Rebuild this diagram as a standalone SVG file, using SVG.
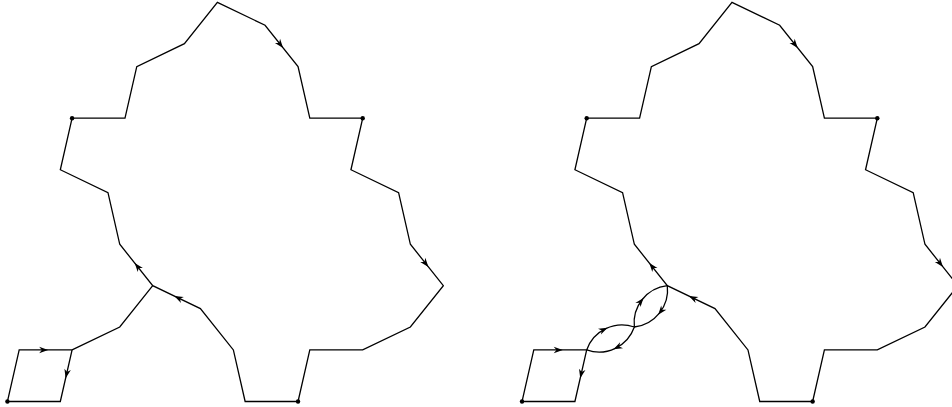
<svg xmlns="http://www.w3.org/2000/svg" xmlns:xlink="http://www.w3.org/1999/xlink" width="952" height="407" viewBox="0 0 952 407">
<style>
.e{fill:none;stroke:#000;stroke-width:1.3;stroke-linejoin:miter;stroke-miterlimit:10}
.d{fill:#000}
.ah{fill:#000;stroke:none}
</style>
<defs>
<path id="ah" class="ah" d="M4,0 L-5,-3.3 L-2.3,0 L-5,3.3 Z"/>
</defs>
<rect width="952" height="407" fill="#fff"/>
<g id="fig-left">
  <g id="left-connectors">
    <path class="e" d="M217.4,2.3 L265.06,25.25 L298.04,66.61 L309.81,118.18 L362.71,118.18 L350.94,169.75 L398.6,192.7 L410.37,244.27 L443.35,285.63 L410.37,326.99 L362.71,349.94 L309.81,349.94 L298.04,401.51 L245.14,401.51 L233.37,349.94 L200.39,308.58 L152.73,285.63 L119.75,244.27 L107.98,192.7 L60.32,169.75 L72.09,118.18 L124.99,118.18 L136.76,66.61 L184.42,43.66 Z"/>
    <path class="e" d="M152.73,285.63 L119.75,326.99 L72.09,349.94"/>
    <path class="e" d="M72.09,349.94 L60.32,401.51 L7.42,401.51 L19.19,349.94 Z"/>
    <use xlink:href="#ah" href="#ah" transform="translate(280.6,44.76) rotate(51.43)"/>
    <use xlink:href="#ah" href="#ah" transform="translate(425.9,263.78) rotate(51.43)"/>
    <use xlink:href="#ah" href="#ah" transform="translate(137.18,266.12) rotate(231.43)"/>
    <use xlink:href="#ah" href="#ah" transform="translate(177.91,297.75) rotate(205.71)"/>
    <use xlink:href="#ah" href="#ah" transform="translate(44.14,349.94) rotate(0)"/>
    <use xlink:href="#ah" href="#ah" transform="translate(66.53,374.26) rotate(102.86)"/>
  </g>
  <g id="left-node-a"><circle class="d" cx="72.09" cy="118.18" r="2.2"/></g>
  <g id="left-node-b"><circle class="d" cx="362.71" cy="118.18" r="2.2"/></g>
  <g id="left-node-c"><circle class="d" cx="298.04" cy="401.51" r="2.2"/></g>
  <g id="left-node-d"><circle class="d" cx="7.42" cy="401.51" r="2.2"/></g>
</g>
<g id="fig-right" transform="translate(514.6,0)">
  <g id="right-connectors">
    <path class="e" d="M217.4,2.3 L265.06,25.25 L298.04,66.61 L309.81,118.18 L362.71,118.18 L350.94,169.75 L398.6,192.7 L410.37,244.27 L443.35,285.63 L410.37,326.99 L362.71,349.94 L309.81,349.94 L298.04,401.51 L245.14,401.51 L233.37,349.94 L200.39,308.58 L152.73,285.63 L119.75,244.27 L107.98,192.7 L60.32,169.75 L72.09,118.18 L124.99,118.18 L136.76,66.61 L184.42,43.66 Z"/>
    <path class="e" d="M72.09,349.94 A37.41,37.41 0 0 1 119.75,326.99 A37.41,37.41 0 0 1 152.73,285.63 A37.41,37.41 0 0 1 119.75,326.99 A37.41,37.41 0 0 1 72.09,349.94"/>
    <path class="e" d="M72.09,349.94 L60.32,401.51 L7.42,401.51 L19.19,349.94 Z"/>
    <use xlink:href="#ah" href="#ah" transform="translate(280.6,44.76) rotate(51.43)"/>
    <use xlink:href="#ah" href="#ah" transform="translate(425.9,263.78) rotate(51.43)"/>
    <use xlink:href="#ah" href="#ah" transform="translate(137.18,266.12) rotate(231.43)"/>
    <use xlink:href="#ah" href="#ah" transform="translate(177.91,297.75) rotate(205.71)"/>
    <use xlink:href="#ah" href="#ah" transform="translate(44.14,349.94) rotate(0)"/>
    <use xlink:href="#ah" href="#ah" transform="translate(66.53,374.26) rotate(102.86)"/>
    <use xlink:href="#ah" href="#ah" transform="translate(126.43,301.04) rotate(-51.43)"/>
    <use xlink:href="#ah" href="#ah" transform="translate(146.06,311.58) rotate(128.57)"/>
    <use xlink:href="#ah" href="#ah" transform="translate(89.37,329.47) rotate(-25.71)"/>
    <use xlink:href="#ah" href="#ah" transform="translate(102.47,347.47) rotate(154.29)"/>
  </g>
  <g id="right-node-a"><circle class="d" cx="72.09" cy="118.18" r="2.2"/></g>
  <g id="right-node-b"><circle class="d" cx="362.71" cy="118.18" r="2.2"/></g>
  <g id="right-node-c"><circle class="d" cx="298.04" cy="401.51" r="2.2"/></g>
  <g id="right-node-d"><circle class="d" cx="7.42" cy="401.51" r="2.2"/></g>
</g>
</svg>
